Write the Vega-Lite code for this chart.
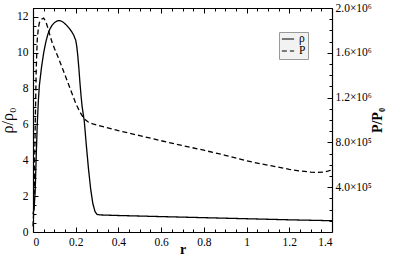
{
  "$schema": "https://vega.github.io/schema/vega-lite/v6.json",
  "autosize": {"type": "none"},
  "width": 299,
  "height": 224,
  "padding": {"left": 33, "top": 8, "right": 61, "bottom": 23},
  "background": "white",
  "config": {
    "view": {"stroke": null},
    "font": "Liberation Serif",
    "axis": {
      "labelFont": "Liberation Serif",
      "titleFont": "Liberation Serif",
      "labelFontSize": 11.5,
      "titleFontSize": 14,
      "labelColor": "black",
      "titleColor": "black",
      "domainColor": "black",
      "tickColor": "black",
      "domainWidth": 1.2,
      "tickWidth": 1,
      "grid": false
    }
  },
  "datasets": {
    "rho": [
      {"r": 0, "v": 1.0}, {"r": 0.005, "v": 1.3}, {"r": 0.01, "v": 2.2}, {"r": 0.015, "v": 4.2},
      {"r": 0.02, "v": 6.0}, {"r": 0.025, "v": 7.3}, {"r": 0.03, "v": 8.2}, {"r": 0.04, "v": 9.2},
      {"r": 0.05, "v": 10.0}, {"r": 0.06, "v": 10.6}, {"r": 0.07, "v": 11.05}, {"r": 0.08, "v": 11.35},
      {"r": 0.09, "v": 11.55}, {"r": 0.1, "v": 11.68}, {"r": 0.11, "v": 11.76}, {"r": 0.12, "v": 11.8},
      {"r": 0.13, "v": 11.78}, {"r": 0.14, "v": 11.72}, {"r": 0.15, "v": 11.62}, {"r": 0.16, "v": 11.5},
      {"r": 0.17, "v": 11.36}, {"r": 0.18, "v": 11.2}, {"r": 0.19, "v": 11.0}, {"r": 0.2, "v": 10.7},
      {"r": 0.205, "v": 10.35}, {"r": 0.21, "v": 9.8}, {"r": 0.215, "v": 9.1}, {"r": 0.22, "v": 8.3},
      {"r": 0.225, "v": 7.6}, {"r": 0.23, "v": 7.0}, {"r": 0.235, "v": 6.6}, {"r": 0.24, "v": 6.2},
      {"r": 0.245, "v": 5.5}, {"r": 0.25, "v": 4.8}, {"r": 0.26, "v": 3.5}, {"r": 0.27, "v": 2.4},
      {"r": 0.28, "v": 1.6}, {"r": 0.29, "v": 1.15}, {"r": 0.3, "v": 0.98}, {"r": 0.32, "v": 0.95},
      {"r": 0.4, "v": 0.92}, {"r": 0.6, "v": 0.86}, {"r": 0.8, "v": 0.8}, {"r": 1.0, "v": 0.74},
      {"r": 1.2, "v": 0.68}, {"r": 1.4, "v": 0.63}
    ],
    "pres": [
      {"r": 0, "v": 50000}, {"r": 0.005, "v": 250000}, {"r": 0.01, "v": 900000}, {"r": 0.015, "v": 1450000},
      {"r": 0.02, "v": 1720000}, {"r": 0.025, "v": 1820000}, {"r": 0.03, "v": 1870000}, {"r": 0.04, "v": 1900000},
      {"r": 0.05, "v": 1910000}, {"r": 0.06, "v": 1880000}, {"r": 0.07, "v": 1820000}, {"r": 0.08, "v": 1750000},
      {"r": 0.09, "v": 1690000}, {"r": 0.1, "v": 1640000}, {"r": 0.12, "v": 1550000}, {"r": 0.14, "v": 1450000},
      {"r": 0.16, "v": 1350000}, {"r": 0.18, "v": 1250000}, {"r": 0.2, "v": 1150000}, {"r": 0.22, "v": 1070000},
      {"r": 0.24, "v": 1010000}, {"r": 0.26, "v": 980000}, {"r": 0.28, "v": 965000}, {"r": 0.3, "v": 955000},
      {"r": 0.4, "v": 905000}, {"r": 0.5, "v": 860000}, {"r": 0.6, "v": 815000}, {"r": 0.7, "v": 772000},
      {"r": 0.8, "v": 730000}, {"r": 0.9, "v": 685000}, {"r": 1.0, "v": 635000}, {"r": 1.1, "v": 596000},
      {"r": 1.2, "v": 560000}, {"r": 1.25, "v": 545000}, {"r": 1.3, "v": 535000}, {"r": 1.33, "v": 532000},
      {"r": 1.36, "v": 535000}, {"r": 1.38, "v": 543000}, {"r": 1.4, "v": 555000}
    ]
  },
  "resolve": {"scale": {"y": "independent"}, "axis": {"x": "independent", "y": "independent"}},
  "layer": [
    {
      "data": {"name": "rho"},
      "mark": {"type": "line", "color": "black", "strokeWidth": 1.3},
      "encoding": {
        "x": {"field": "r", "type": "quantitative", "scale": {"domain": [0, 1.4], "nice": false},
          "axis": {"orient": "bottom", "values": [0, 0.2, 0.4, 0.6, 0.8, 1, 1.2, 1.4], "format": "~g",
            "tickSize": -5, "labelPadding": 9, "title": "r", "titleFontWeight": "bold", "titleFontSize": 14,
            "titleY": 21, "titleBaseline": "alphabetic"}},
        "y": {"field": "v", "type": "quantitative", "scale": {"domain": [0, 12.5], "nice": false},
          "axis": {"orient": "left", "values": [0, 2, 4, 6, 8, 10, 12], "tickSize": -5, "labelPadding": 10,
            "title": "ρ/ρ₀", "titleFontWeight": "normal", "titleFontSize": 16, "titlePadding": 1}},
        "strokeDash": {"datum": "ρ", "type": "nominal",
          "scale": {"domain": ["ρ", "P"], "range": [[1, 0], [5, 3]]},
          "legend": {"orient": "none", "legendX": 246, "legendY": 24, "title": null,
            "fillColor": "#f2f2f2", "strokeColor": "#999999", "padding": 2,
            "labelFont": "Liberation Serif", "labelFontSize": 11.5, "labelColor": "black",
            "labelExpr": "datum.label + '\u2003\u2003'",
            "symbolType": "stroke", "symbolSize": 150, "symbolStrokeColor": "black", "symbolStrokeWidth": 1.2,
            "clipHeight": 10, "rowPadding": 0, "labelOffset": 4}}
      }
    },
    {
      "data": {"name": "pres"},
      "mark": {"type": "line", "color": "black", "strokeWidth": 1.3},
      "encoding": {
        "x": {"field": "r", "type": "quantitative", "scale": {"domain": [0, 1.4], "nice": false},
          "axis": {"orient": "top", "values": [0, 0.2, 0.4, 0.6, 0.8, 1, 1.2, 1.4], "labels": false,
            "tickSize": -5, "title": null}},
        "y": {"field": "v", "type": "quantitative", "scale": {"domain": [0, 2000000], "nice": false},
          "axis": {"orient": "right", "values": [400000, 800000, 1200000, 1600000, 2000000], "tickSize": -5,
            "labelPadding": 8,
            "labelExpr": "datum.value == 400000 ? '4.0×10⁵' : datum.value == 800000 ? '8.0×10⁵' : datum.value == 1200000 ? '1.2×10⁶' : datum.value == 1600000 ? '1.6×10⁶' : '2.0×10⁶'",
            "title": "P/P₀", "titleAngle": 270, "titleFontWeight": "bold", "titleFontSize": 14, "titlePadding": 13}},
        "strokeDash": {"datum": "P", "type": "nominal"}
      }
    },
    {
      "data": {"name": "rho"},
      "mark": {"type": "line", "opacity": 0},
      "encoding": {
        "x": {"field": "r", "type": "quantitative", "scale": {"domain": [0, 1.4], "nice": false},
          "axis": {"orient": "bottom", "values": [0.05, 0.1, 0.15, 0.25, 0.3, 0.35, 0.45, 0.5, 0.55, 0.65, 0.7, 0.75, 0.85, 0.9, 0.95, 1.05, 1.1, 1.15, 1.25, 1.3, 1.35],
            "labels": false, "domain": false, "tickSize": -3, "title": null}},
        "y": {"field": "v", "type": "quantitative", "scale": {"domain": [0, 12.5], "nice": false},
          "axis": {"orient": "left", "values": [0.5, 1, 1.5, 2.5, 3, 3.5, 4.5, 5, 5.5, 6.5, 7, 7.5, 8.5, 9, 9.5, 10.5, 11, 11.5, 12.5],
            "labels": false, "domain": false, "tickSize": -3, "title": null}}
      }
    },
    {
      "data": {"name": "pres"},
      "mark": {"type": "line", "opacity": 0},
      "encoding": {
        "x": {"field": "r", "type": "quantitative", "scale": {"domain": [0, 1.4], "nice": false},
          "axis": {"orient": "top", "values": [0.05, 0.1, 0.15, 0.25, 0.3, 0.35, 0.45, 0.5, 0.55, 0.65, 0.7, 0.75, 0.85, 0.9, 0.95, 1.05, 1.1, 1.15, 1.25, 1.3, 1.35],
            "labels": false, "domain": false, "tickSize": -3, "title": null}},
        "y": {"field": "v", "type": "quantitative", "scale": {"domain": [0, 2000000], "nice": false},
          "axis": {"orient": "right", "values": [100000, 200000, 300000, 500000, 600000, 700000, 900000, 1000000, 1100000, 1300000, 1400000, 1500000, 1700000, 1800000, 1900000],
            "labels": false, "domain": false, "tickSize": -3, "title": null}}
      }
    }
  ]
}
